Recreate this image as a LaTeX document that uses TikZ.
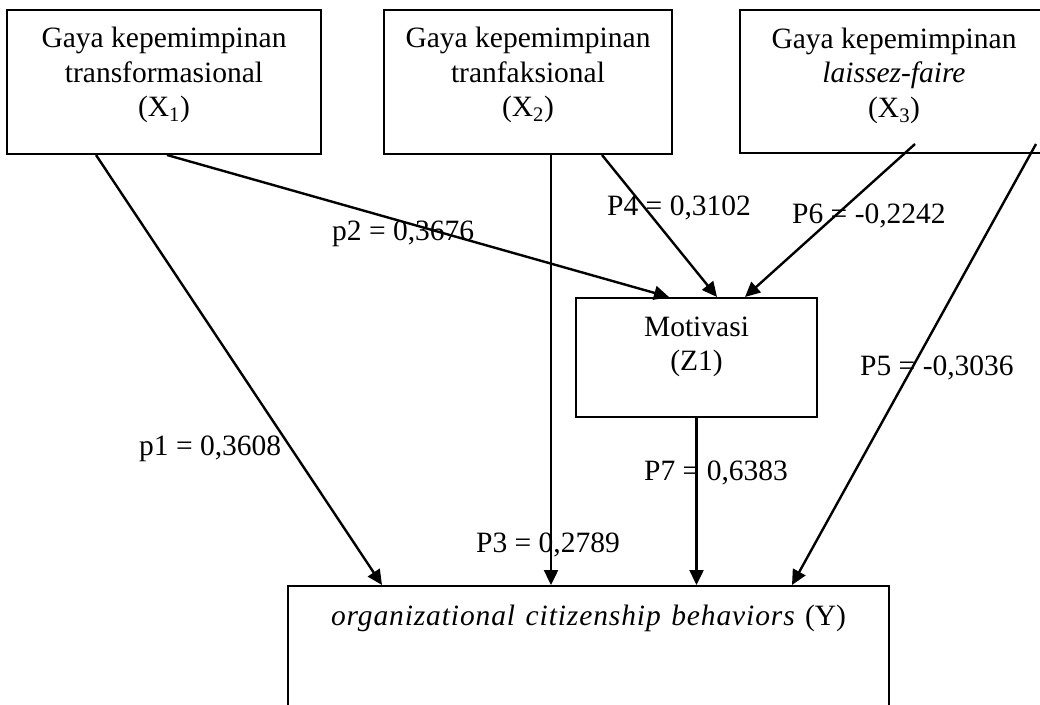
\documentclass[tikz,border=0pt]{standalone}
\usepackage{fontspec}
\setmainfont{Liberation Serif}
\usetikzlibrary{arrows.meta,calc}
\begin{document}
\begin{tikzpicture}[x=1pt,y=-1pt,
 box/.style={draw, line width=2pt, rectangle, inner sep=0pt},
 txt/.style={inner sep=0pt, align=center, anchor=north, font=\fontsize{29.5}{34.5}\selectfont},
 lbl/.style={inner sep=0pt, anchor=base west, font=\fontsize{29.5}{34.5}\selectfont},
 arr/.style={line width=2.4pt, -{Triangle[length=15pt,width=14pt]}}]
\useasboundingbox (0,0) rectangle (1040,704);
% boxes
\node[box, minimum width=314pt, minimum height=144pt] (x1) at (164,82) {};
\node[box, minimum width=288pt, minimum height=144pt] (x2) at (528,82) {};
\node[box, minimum width=308pt, minimum height=143pt] (x3) at (894,81.5) {};
\node[box, minimum width=241pt, minimum height=119pt] (mot) at (696.5,357.5) {};
\node[box, minimum width=601pt, minimum height=134pt] (y) at (588.5,653) {};
% box texts
\node[txt] (x1t) at (164,27) {Gaya kepemimpinan\\transformasional\\(X\textsubscript{1})};
\node[txt] (x2t) at (528,27) {Gaya kepemimpinan\\tranfaksional\\(X\textsubscript{2})};
\node[txt] (x3t) at (894,27.5) {Gaya kepemimpinan\\\textit{laissez-faire}\\(X\textsubscript{3})};
\node[txt] (mott) at (696.5,316.5) {Motivasi\\(Z1)};
\node[inner sep=0pt, anchor=base, font=\fontsize{29.5}{34.5}\selectfont] (yt) at (588.5,625)
  {\makebox[515pt][s]{\textit{\addfontfeature{LetterSpace=3}organizational citizenship behaviors} (Y)}};
% connectors
\draw[arr] ($(x1.south west)+(90,0)$) -- ($(y.north west)+(95,0)$);
\draw[arr] ($(x1.south west)+(161,0)$) -- ($(mot.north west)+(94,0)$);
\draw[arr] ($(x2.south west)+(168,0)$) -- ($(y.north west)+(264,0)$);
\draw[arr] ($(x2.south west)+(219,0)$) -- ($(mot.north west)+(142,0)$);
\draw[arr] ($(x3.south west)+(176,-10)$) -- ($(mot.north west)+(170,0)$);
\draw[arr] ($(x3.south west)+(297,-10)$) -- ($(y.north west)+(505,0)$);
\draw[arr] (mot.south) -- (mot.south |- y.north);
% labels
\node[lbl] (l1) at (139,455) {p1 = 0,3608};
\node[lbl] (l2) at (332,240) {p2 = 0,3676};
\node[lbl] (l3) at (476,552) {P3 = 0,2789};
\node[lbl] (l4) at (607,215) {P4 = 0,3102};
\node[lbl] (l5) at (860,375) {P5 = -0,3036};
\node[lbl] (l6) at (792,223) {P6 = -0,2242};
\node[lbl] (l7) at (644,480) {P7 = 0,6383};
\end{tikzpicture}
\end{document}
